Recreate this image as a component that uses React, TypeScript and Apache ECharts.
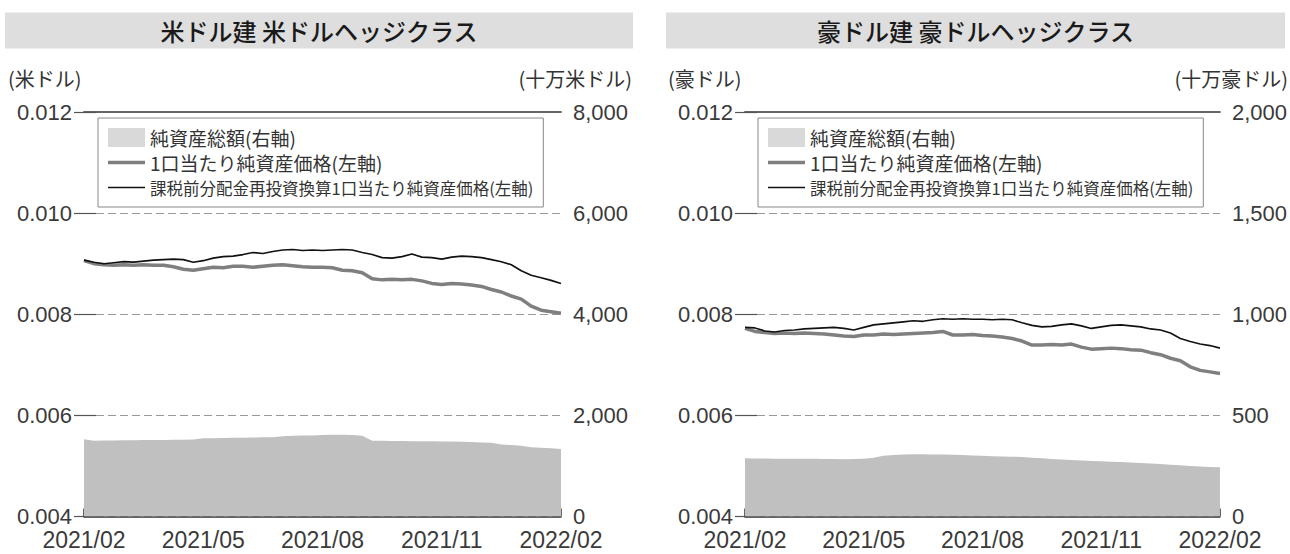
import React, { useEffect, useRef } from "react";
import * as echarts from "echarts";

// x positions: months elapsed since 2021/02 (0 = 2021/02, 12 = 2022/02)
const months = [
  0, 0.25, 0.5, 0.75, 1, 1.25, 1.5, 1.75, 2, 2.25, 2.5, 2.75, 3, 3.25, 3.5, 3.75,
  4, 4.25, 4.5, 4.75, 5, 5.25, 5.5, 5.75, 6, 6.25, 6.5, 6.75, 7, 7.25, 7.5, 7.75,
  8, 8.25, 8.5, 8.75, 9, 9.25, 9.5, 9.75, 10, 10.25, 10.5, 10.75, 11, 11.25, 11.5, 11.75, 12,
];
const xTickLabels = ["2021/02", "2021/05", "2021/08", "2021/11", "2022/02"];

const titles = ["米ドル建 米ドルヘッジクラス", "豪ドル建 豪ドルヘッジクラス"];
const leftUnits = ["(米ドル)", "(豪ドル)"];
const rightUnits = ["(十万米ドル)", "(十万豪ドル)"];
const seriesNames = [
  "純資産総額(右軸)",
  "1口当たり純資産価格(左軸)",
  "課税前分配金再投資換算1口当たり純資産価格(左軸)",
];

// 米ドル建 米ドルヘッジクラス
const usdNav = [
  0.00906, 0.009, 0.00898, 0.00897, 0.00898, 0.00897, 0.00898, 0.00897, 0.00897, 0.00894, 0.00889, 0.00887,
  0.0089, 0.00893, 0.00892, 0.00895, 0.00895, 0.00893, 0.00895, 0.00897, 0.00898, 0.00896, 0.00894, 0.00893,
  0.00893, 0.00892, 0.00887, 0.00886, 0.00882, 0.0087, 0.00868, 0.00869, 0.00868, 0.00869, 0.00866, 0.00861,
  0.00859, 0.00861, 0.0086, 0.00858, 0.00855, 0.00849, 0.00844, 0.00836, 0.0083, 0.00816, 0.00808, 0.00805, 0.00802,
];
const usdNavReinv = [
  0.00907, 0.00903, 0.009, 0.00902, 0.00904, 0.00903, 0.00905, 0.00907, 0.00908, 0.00909, 0.00908, 0.00903,
  0.00906, 0.00911, 0.00914, 0.00915, 0.00918, 0.00922, 0.0092, 0.00924, 0.00927, 0.00928, 0.00926, 0.00927,
  0.00926, 0.00927, 0.00928, 0.00927, 0.00922, 0.00918, 0.00912, 0.00911, 0.00914, 0.00919, 0.00913, 0.00912,
  0.00909, 0.00913, 0.00915, 0.00914, 0.00912, 0.00908, 0.00904, 0.00898, 0.00886, 0.00877, 0.00872, 0.00867, 0.00861,
];
const usdAssets = [
  1527, 1500, 1502, 1505, 1507, 1509, 1511, 1513, 1515, 1517, 1520, 1525,
  1547, 1550, 1553, 1556, 1559, 1562, 1565, 1568, 1585, 1598, 1600, 1602,
  1612, 1618, 1618, 1610, 1595, 1500, 1498, 1495, 1492, 1490, 1488, 1486,
  1484, 1482, 1480, 1475, 1465, 1458, 1425, 1412, 1400, 1370, 1360, 1348, 1335,
];

// 豪ドル建 豪ドルヘッジクラス
const audNav = [
  0.00772, 0.00766, 0.00764, 0.00762, 0.00763, 0.00762, 0.00763, 0.00762, 0.00761, 0.00759, 0.00757, 0.00756,
  0.00759, 0.00759, 0.00761, 0.0076, 0.00761, 0.00762, 0.00763, 0.00764, 0.00766, 0.00759, 0.00759, 0.0076,
  0.00758, 0.00757, 0.00755, 0.00752, 0.00747, 0.00739, 0.00739, 0.0074, 0.00739, 0.00741, 0.00735, 0.00731,
  0.00732, 0.00733, 0.00732, 0.0073, 0.00729, 0.00724, 0.0072, 0.00713, 0.00708, 0.00696, 0.00689, 0.00686, 0.00683,
];
const audNavReinv = [
  0.00774, 0.00773, 0.00767, 0.00765, 0.00768, 0.00769, 0.00771, 0.00772, 0.00773, 0.00774, 0.00772, 0.00769,
  0.00774, 0.00779, 0.00781, 0.00783, 0.00785, 0.00787, 0.00786, 0.00789, 0.00791, 0.0079, 0.00791, 0.0079,
  0.0079, 0.00789, 0.0079, 0.00789, 0.00783, 0.00778, 0.00775, 0.00776, 0.00779, 0.00781, 0.00777, 0.00772,
  0.00775, 0.00778, 0.00779, 0.00777, 0.00775, 0.00771, 0.00769, 0.00763, 0.00752, 0.00746, 0.00741, 0.00738, 0.00733,
];
const audAssets = [
  288, 287, 287, 286, 286, 286, 285, 285, 284, 284, 283, 284,
  286, 290, 300, 304, 307, 308, 308, 307, 306, 305, 304, 302,
  300, 298, 297, 296, 294, 291, 288, 284, 282, 279, 277, 275,
  273, 271, 269, 267, 264, 262, 259, 256, 253, 250, 247, 245, 243,
];

const leftAxisRange = { min: 0.004, max: 0.012, interval: 0.002 };
const rightAxisMax = [8000, 2000];
const rightAxisInterval = [2000, 500];

const FONT = "'Liberation Sans', 'Noto Sans CJK JP', sans-serif";
const JFONT = "'Noto Sans CJK JP', sans-serif";

const AREA_COLOR = "#c0c0c0";
const NAV_COLOR = "#7f7f7f";
const REINV_COLOR = "#111111";

export default function App() {
  const ref = useRef<HTMLDivElement>(null);
  useEffect(() => {
    if (!ref.current) return;
    const chart = echarts.init(ref.current, undefined, { renderer: "svg" });
    const pair = (vals: number[]) => months.map((m, i) => [m, vals[i]]);
    const grids = [
      { left: 84, right: 729, top: 112, bottom: 37.5 },
      { left: 745, right: 68.5, top: 112, bottom: 37.5 },
    ];
    const xAxes: any[] = [];
    const yAxes: any[] = [];
    const series: any[] = [];
    const legends: any[] = [];
    const datasets = [
      [usdAssets, usdNav, usdNavReinv],
      [audAssets, audNav, audNavReinv],
    ];
    const legendLeft = [98, 758];
    grids.forEach((_, gi) => {
      xAxes.push({
        type: "value",
        gridIndex: gi,
        min: 0,
        max: 12,
        interval: 3,
        position: "bottom",
        axisLine: { show: true, lineStyle: { color: "#333", width: 1.5 } },
        axisTick: { show: true, inside: true, length: 8, lineStyle: { color: "#333", width: 1.5 } },
        axisLabel: {
          formatter: (v: number) => xTickLabels[Math.round(v / 3)] ?? "",
          fontSize: 23,
          color: "#3a3a3a",
          fontFamily: FONT,
          margin: 12,
        },
        splitLine: { show: false },
      });
      xAxes.push({
        type: "value",
        gridIndex: gi,
        min: 0,
        max: 12,
        position: "top",
        axisLine: { show: true, lineStyle: { color: "#666", width: 1.8 } },
        axisTick: { show: false },
        axisLabel: { show: false },
        splitLine: { show: false },
      });
      yAxes.push({
        type: "value",
        gridIndex: gi,
        position: "left",
        ...leftAxisRange,
        axisLine: { show: false },
        axisTick: { show: true, inside: true, length: 12, lineStyle: { color: "#555", width: 1.2 } },
        axisLabel: {
          formatter: (v: number) => v.toFixed(3),
          fontSize: 22,
          color: "#3a3a3a",
          fontFamily: FONT,
          margin: 12,
        },
        splitLine: { show: true, lineStyle: { color: "#999", width: 1.2, type: [8, 4] } },
      });
      yAxes.push({
        type: "value",
        gridIndex: gi,
        position: "right",
        min: 0,
        max: rightAxisMax[gi],
        interval: rightAxisInterval[gi],
        axisLine: { show: false },
        axisTick: { show: true, inside: true, length: 10, lineStyle: { color: "#555", width: 1.2 } },
        axisLabel: {
          formatter: (v: number) => v.toLocaleString("en-US"),
          fontSize: 22,
          color: "#3a3a3a",
          fontFamily: FONT,
          margin: 12,
        },
        splitLine: { show: false },
      });
      const [assets, nav, reinv] = datasets[gi];
      series.push({
        name: seriesNames[0],
        type: "line",
        xAxisIndex: gi * 2,
        yAxisIndex: gi * 2 + 1,
        data: pair(assets),
        symbol: "none",
        lineStyle: { width: 0, color: AREA_COLOR },
        itemStyle: { color: AREA_COLOR },
        areaStyle: { color: AREA_COLOR, opacity: 1 },
        z: 1,
      });
      series.push({
        name: seriesNames[1],
        type: "line",
        xAxisIndex: gi * 2,
        yAxisIndex: gi * 2,
        data: pair(nav),
        symbol: "none",
        lineStyle: { width: 3.5, color: NAV_COLOR },
        itemStyle: { color: NAV_COLOR },
        z: 3,
      });
      series.push({
        name: seriesNames[2],
        type: "line",
        xAxisIndex: gi * 2,
        yAxisIndex: gi * 2,
        data: pair(reinv),
        symbol: "none",
        lineStyle: { width: 1.6, color: REINV_COLOR },
        itemStyle: { color: REINV_COLOR },
        z: 4,
      });
      legends.push({
        orient: "vertical",
        left: legendLeft[gi],
        top: 118,
        padding: [10, 10, 10, 10],
        itemGap: 6,
        itemWidth: 37,
        itemHeight: 19,
        symbolKeepAspect: true,
        borderColor: "#888",
        borderWidth: 1,
        backgroundColor: "#fff",
        selectedMode: false,
        textStyle: { color: "#333", fontFamily: JFONT, fontSize: 19, lineHeight: 19 },
        data: [
          { name: seriesNames[0], icon: "rect", itemStyle: { color: "#d9d9d9", borderWidth: 0 } },
          {
            name: seriesNames[1],
            icon: "path://M0,0 L37,0 L37,3.5 L0,3.5 Z",
            itemStyle: { color: NAV_COLOR, borderWidth: 0 },
          },
          {
            name: seriesNames[2],
            icon: "path://M0,0 L37,0 L37,1.6 L0,1.6 Z",
            itemStyle: { color: REINV_COLOR, borderWidth: 0 },
            textStyle: { fontSize: 16.5, lineHeight: 19 },
          },
        ],
      });
    });

    const bands = [
      { x: 5, w: 628 },
      { x: 666, w: 619 },
    ];
    const graphic: any[] = [];
    bands.forEach((b, i) => {
      graphic.push({
        type: "rect",
        shape: { x: b.x, y: 12.5, width: b.w, height: 36 },
        style: { fill: "#dedede" },
        silent: true,
      });
      graphic.push({
        type: "text",
        x: b.x + b.w / 2,
        y: 30.5,
        style: {
          text: titles[i],
          fill: "#1a1a1a",
          font: `500 24px ${JFONT}`,
          align: "center",
          verticalAlign: "middle",
        },
      });
    });
    const unitPos = [
      { l: 8, r: 632 },
      { l: 668, r: 1288 },
    ];
    unitPos.forEach((p, i) => {
      graphic.push({
        type: "text",
        x: p.l,
        y: 78,
        style: { text: leftUnits[i], fill: "#333", font: `20px ${JFONT}`, align: "left", verticalAlign: "middle" },
      });
      graphic.push({
        type: "text",
        x: p.r,
        y: 78,
        style: { text: rightUnits[i], fill: "#333", font: `20px ${JFONT}`, align: "right", verticalAlign: "middle" },
      });
    });

    chart.setOption({
      animation: false,
      backgroundColor: "#fff",
      grid: grids,
      xAxis: xAxes,
      yAxis: yAxes,
      legend: legends,
      series,
      graphic,
    });
    return () => chart.dispose();
  }, []);
  return (
    <div
      ref={ref}
      style={{ position: "fixed", left: 0, top: 0, width: 1290, height: 554 }}
    />
  );
}
